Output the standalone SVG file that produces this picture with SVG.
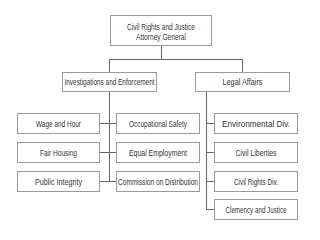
<svg xmlns="http://www.w3.org/2000/svg" width="320" height="240" viewBox="0 0 320 240">
<style>
.box{fill:#fff;stroke:#9a9a9a;stroke-width:1}
.t{font-family:"Liberation Sans",Arial,sans-serif;font-size:9px;fill:#333;text-anchor:middle}
.c{fill:none;stroke:#666;stroke-width:1}
</style>
<rect width="320" height="240" fill="#fff"/>
<g id="connectors">
<path class="c" d="M161.5 45V59.5M109.5 59.5H242.5M109.5 59.5V72M242.5 59.5V72"/>
<path class="c" d="M109.5 91V181.5M99 123.5H116M99 152.5H116M99 181.5H116"/>
<path class="c" d="M206.5 91V209.5M206.5 123.5H214M206.5 152.5H214M206.5 181.5H214M206.5 209.5H214"/>
</g>
<g id="n-root"><rect class="box" x="110.5" y="15.5" width="101" height="30"/><text class="t" x="161" y="30" textLength="68" lengthAdjust="spacingAndGlyphs">Civil Rights and Justice</text><text class="t" x="161" y="40" textLength="50" lengthAdjust="spacingAndGlyphs">Attorney General</text></g>
<g id="n-invest"><rect class="box" x="62.5" y="72.5" width="94" height="19"/><text class="t" x="109.5" y="85" textLength="90" lengthAdjust="spacingAndGlyphs">Investigations and Enforcement</text></g>
<g id="n-legal"><rect class="box" x="195.5" y="72.5" width="94" height="19"/><text class="t" x="242.5" y="85" textLength="40" lengthAdjust="spacingAndGlyphs">Legal Affairs</text></g>
<g id="n-wage"><rect class="box" x="17.5" y="113.5" width="82" height="20"/><text class="t" x="58.5" y="126.5" textLength="45" lengthAdjust="spacingAndGlyphs">Wage and Hour</text></g>
<g id="n-fair"><rect class="box" x="17.5" y="142.5" width="82" height="20"/><text class="t" x="58.5" y="155.5" textLength="37" lengthAdjust="spacingAndGlyphs">Fair Housing</text></g>
<g id="n-public"><rect class="box" x="17.5" y="171.5" width="82" height="20"/><text class="t" x="58.5" y="184.5" textLength="47" lengthAdjust="spacingAndGlyphs">Public Integrity</text></g>
<g id="n-occ"><rect class="box" x="116.5" y="113.5" width="83" height="20"/><text class="t" x="158" y="126.5" textLength="58" lengthAdjust="spacingAndGlyphs">Occupational Safety</text></g>
<g id="n-equal"><rect class="box" x="116.5" y="142.5" width="83" height="20"/><text class="t" x="158" y="155.5" textLength="58" lengthAdjust="spacingAndGlyphs">Equal Employment</text></g>
<g id="n-comm"><rect class="box" x="116.5" y="171.5" width="83" height="20"/><text class="t" x="158" y="184.5" textLength="80" lengthAdjust="spacingAndGlyphs">Commission on Distribution</text></g>
<g id="n-env"><rect class="box" x="214.5" y="113.5" width="83" height="20"/><text class="t" x="256" y="126.5" textLength="68" lengthAdjust="spacingAndGlyphs">Environmental Div.</text></g>
<g id="n-civlib"><rect class="box" x="214.5" y="142.5" width="83" height="20"/><text class="t" x="256" y="155.5" textLength="41" lengthAdjust="spacingAndGlyphs">Civil Liberties</text></g>
<g id="n-civrights"><rect class="box" x="214.5" y="171.5" width="83" height="20"/><text class="t" x="256" y="184.5" textLength="44" lengthAdjust="spacingAndGlyphs">Civil Rights Div.</text></g>
<g id="n-clem"><rect class="box" x="214.5" y="199.5" width="83" height="20"/><text class="t" x="256" y="212.5" textLength="61" lengthAdjust="spacingAndGlyphs">Clemency and Justice</text></g>
</svg>
